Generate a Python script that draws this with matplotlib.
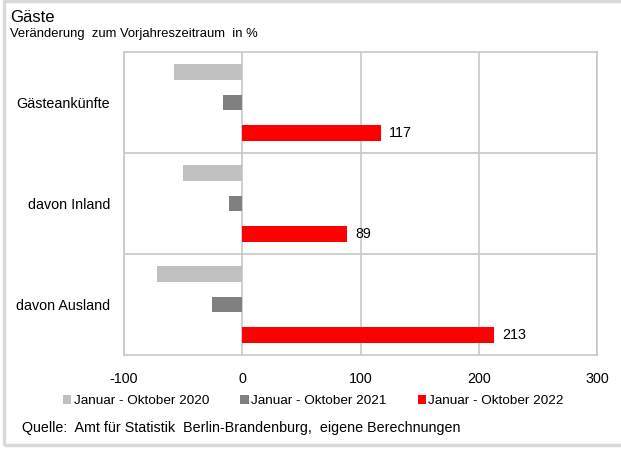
import numpy as np
import matplotlib.pyplot as plt
from matplotlib.patches import Rectangle, Patch

plt.rcParams['font.family'] = ['Liberation Sans', 'DejaVu Sans']

categories = ['Gästeankünfte', 'davon Inland', 'davon Ausland']
series = ['Januar - Oktober 2020', 'Januar - Oktober 2021', 'Januar - Oktober 2022']
values_2020 = [-58, -50, -72]
values_2021 = [-16, -11, -26]
values_2022 = [117, 89, 213]
colors = ['#c0c0c0', '#808080', '#ff0000']

fig = plt.figure(figsize=(6.21, 4.5), dpi=100)
ax = fig.add_axes([124 / 621, 1 - 355 / 450, 473 / 621, 303 / 450])

y = np.arange(len(categories))
offsets = [-0.302, 0.0, 0.302]
for vals, off, col, lab in zip([values_2020, values_2021, values_2022], offsets, colors, series):
    ax.barh(y + off, vals, height=0.15, color=col, label=lab, zorder=3)

# value labels only on the 2022 bars
for yi, v in zip(y, values_2022):
    ax.text(v + 7, yi + 0.302, str(v), va='center', ha='left', fontsize=10.3, color='black')

ax.set_xlim(-100, 300)
ax.set_ylim(2.5, -0.5)
ax.set_xticks([-100, 0, 100, 200, 300])
ax.set_xticklabels(['-100', '0', '100', '200', '300'], fontsize=10.3)
ax.set_yticks(y)
ax.set_yticklabels(categories, fontsize=10.3)
ax.set_yticks([0.5, 1.5], minor=True)
ax.tick_params(axis='both', which='both', length=0)
ax.tick_params(axis='x', pad=12)
ax.tick_params(axis='y', pad=10)
ax.grid(axis='x', which='major', color='#c8c8c8', linewidth=1.2, zorder=0)
ax.grid(axis='y', which='minor', color='#c8c8c8', linewidth=1.2, zorder=0)
for s in ax.spines.values():
    s.set_color('#c8c8c8')
    s.set_linewidth(1.2)

handles = [Patch(facecolor=c, edgecolor='none') for c in colors]
fig.legend(handles, series, loc='center', bbox_to_anchor=(0.505, 1 - 401 / 450), ncol=3,
           frameon=False, fontsize=9.7, handlelength=0.6, handleheight=0.6,
           handletextpad=0.2, columnspacing=2.3)

fig.text(10 / 621, 1 - 17 / 450, 'Gäste', fontsize=12, va='center', ha='left')
fig.text(10 / 621, 1 - 34 / 450, 'Veränderung  zum Vorjahreszeitraum  in %', fontsize=9.4,
         va='center', ha='left')
fig.text(22 / 621, 1 - 428 / 450, 'Quelle:  Amt für Statistik  Berlin-Brandenburg,  eigene Berechnungen',
         fontsize=10.3, va='center', ha='left')

# light grey frame around the whole chart
fig.patches.append(Rectangle((4 / 621, 1 - 445 / 450), 1.0, 444 / 450, transform=fig.transFigure,
                             fill=False, edgecolor='#d9d9d9', linewidth=2.5))

fig.savefig('out.png', dpi=100)
